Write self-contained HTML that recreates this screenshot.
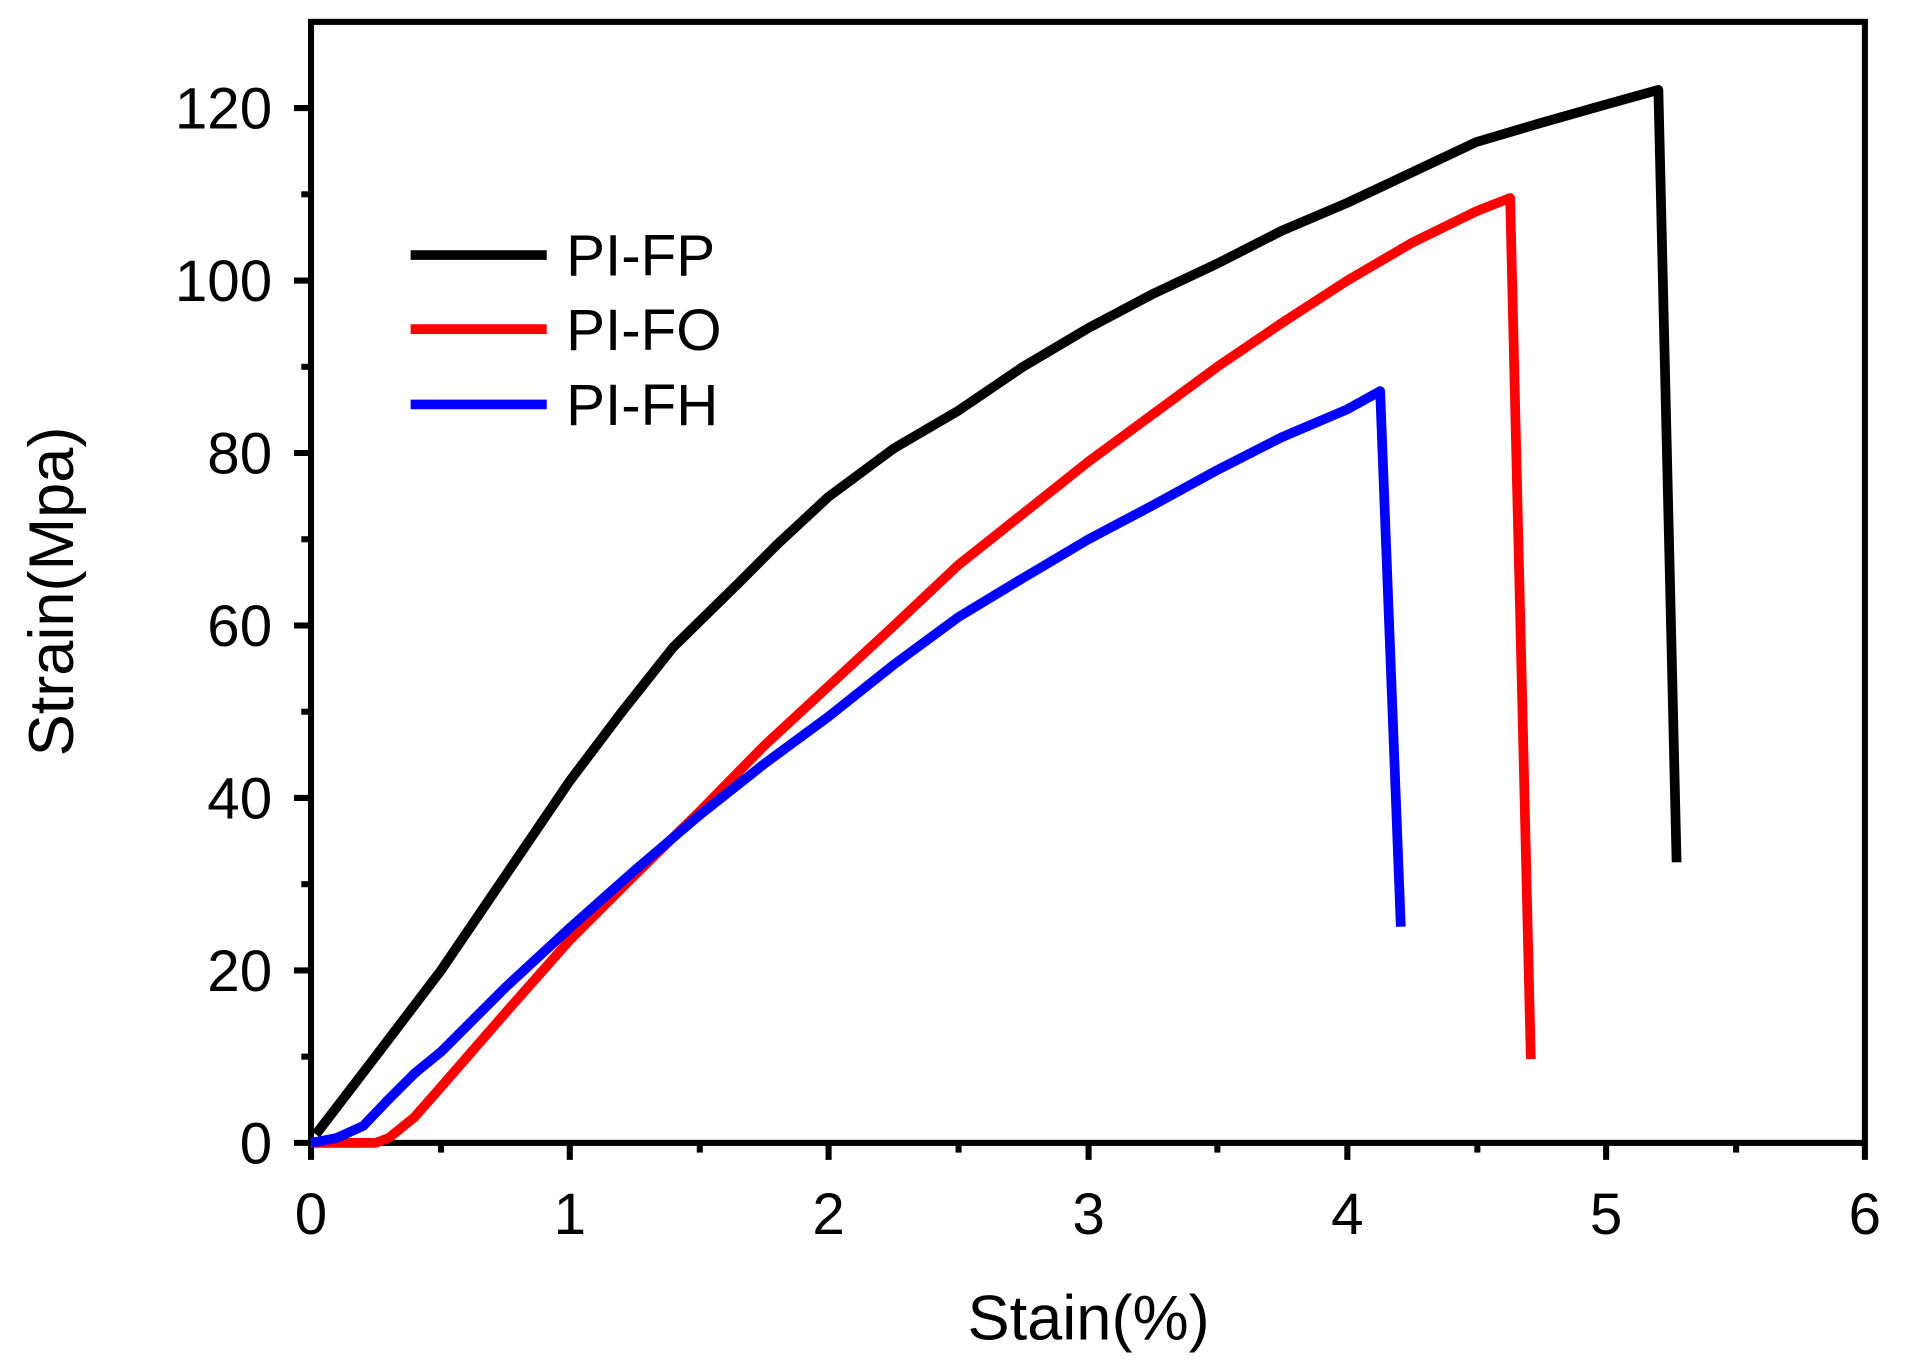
<!DOCTYPE html>
<html><head><meta charset="utf-8"><style>html,body{margin:0;padding:0;background:#fff}svg{display:block}</style></head>
<body>
<svg width="1905" height="1370" viewBox="0 0 1568 1128" preserveAspectRatio="none" xmlns="http://www.w3.org/2000/svg" font-family="Liberation Sans, sans-serif">
<rect x="256" y="18" width="1279" height="923" fill="none" stroke="#000" stroke-width="5"/>
<g stroke="#000" stroke-width="5">
<line x1="256" y1="941" x2="256" y2="955"/><line x1="469" y1="941" x2="469" y2="955"/><line x1="682" y1="941" x2="682" y2="955"/><line x1="896" y1="941" x2="896" y2="955"/><line x1="1109" y1="941" x2="1109" y2="955"/><line x1="1322" y1="941" x2="1322" y2="955"/><line x1="1535" y1="941" x2="1535" y2="955"/>
<line x1="363" y1="941" x2="363" y2="949"/><line x1="576" y1="941" x2="576" y2="949"/><line x1="789" y1="941" x2="789" y2="949"/><line x1="1002" y1="941" x2="1002" y2="949"/><line x1="1216" y1="941" x2="1216" y2="949"/><line x1="1429" y1="941" x2="1429" y2="949"/>
<line x1="242" y1="941" x2="256" y2="941"/><line x1="242" y1="799" x2="256" y2="799"/><line x1="242" y1="657" x2="256" y2="657"/><line x1="242" y1="515" x2="256" y2="515"/><line x1="242" y1="373" x2="256" y2="373"/><line x1="242" y1="231" x2="256" y2="231"/><line x1="242" y1="89" x2="256" y2="89"/>
<line x1="248" y1="870" x2="256" y2="870"/><line x1="248" y1="728" x2="256" y2="728"/><line x1="248" y1="586" x2="256" y2="586"/><line x1="248" y1="444" x2="256" y2="444"/><line x1="248" y1="302" x2="256" y2="302"/><line x1="248" y1="160" x2="256" y2="160"/>
</g>
<g font-size="48" text-anchor="middle">
<text x="256" y="1016">0</text><text x="469" y="1016">1</text><text x="682" y="1016">2</text><text x="896" y="1016">3</text><text x="1109" y="1016">4</text><text x="1322" y="1016">5</text><text x="1535" y="1016">6</text>
</g>
<g font-size="48" text-anchor="end">
<text x="224" y="958">0</text><text x="224" y="816">20</text><text x="224" y="674">40</text><text x="224" y="532">60</text><text x="224" y="390">80</text><text x="224" y="248">100</text><text x="224" y="106">120</text>
</g>
<text x="896" y="1103" font-size="52" text-anchor="middle">Stain(%)</text>
<text transform="translate(60,487) rotate(-90)" font-size="52" text-anchor="middle">Strain(Mpa)</text>
<g fill="none" stroke-width="8" stroke-linejoin="round">
<polyline stroke="#000" points="260,934 309,870 363,799 416,721 469,643 512,586 554,533 608,480 640,448 682,409 736,369 789,338 842,302 896,270 949,242 1002,217 1055,190 1109,167 1162,142 1215,117 1269,101 1322,86 1365,74 1380,710"/>
<polyline stroke="#f00" points="256,941 309,941 320,937 341,920 363,895 416,834 469,774 522,721 576,668 629,614 682,565 736,515 789,465 842,423 896,380 949,341 1002,302 1055,266 1109,231 1162,200 1215,174 1243,163 1260,872"/>
<polyline stroke="#00f" points="256,941 277,937 299,927 320,905 341,884 363,866 416,813 469,764 522,717 576,671 629,629 682,590 736,547 789,508 842,476 896,444 949,416 1002,387 1055,360 1109,337 1136,322 1153,763"/>
</g>
<g stroke-width="8"><line x1="338" y1="210" x2="450" y2="210" stroke="#000"/><line x1="338" y1="271" x2="450" y2="271" stroke="#f00"/><line x1="338" y1="333" x2="450" y2="333" stroke="#00f"/></g>
<g font-size="48"><text x="466" y="227">PI-FP</text><text x="466" y="288">PI-FO</text><text x="466" y="350">PI-FH</text></g>
</svg>
</body></html>
